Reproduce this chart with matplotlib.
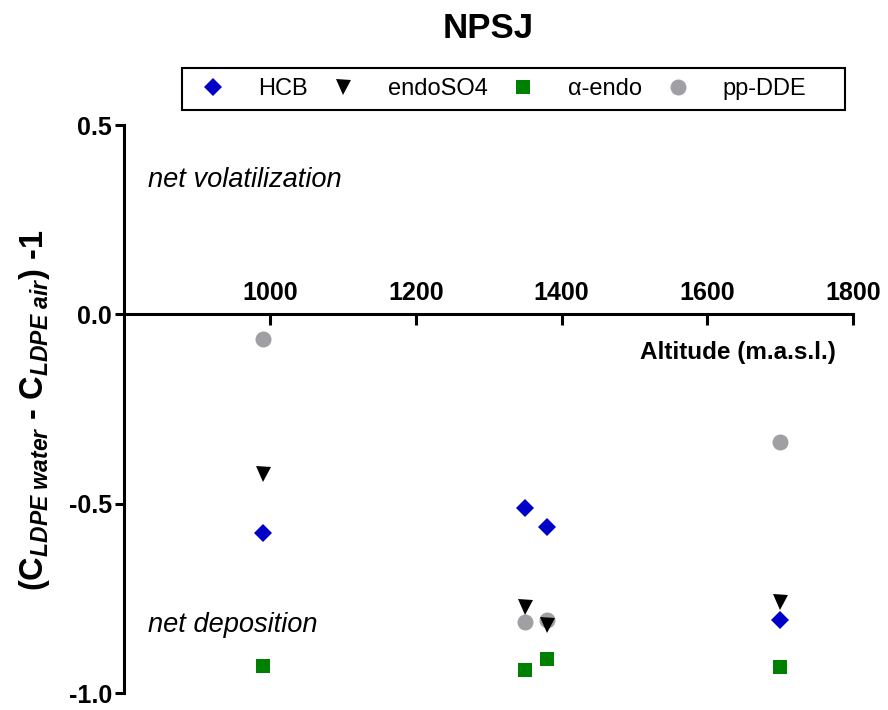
import matplotlib
matplotlib.use("Agg")
import matplotlib.pyplot as plt
from matplotlib.patches import Rectangle

plt.rcParams['font.family'] = ['Liberation Sans', 'DejaVu Sans']
plt.rcParams['axes.unicode_minus'] = False
plt.rcParams['mathtext.fontset'] = 'custom'
plt.rcParams['mathtext.rm'] = 'Liberation Sans'
plt.rcParams['mathtext.it'] = 'Liberation Sans:italic'
plt.rcParams['mathtext.bf'] = 'Liberation Sans:bold'
plt.rcParams['mathtext.bfit'] = 'Liberation Sans:bold:italic'

altitude = [990, 1350, 1380, 1700]
hcb = [-0.576, -0.512, -0.560, -0.806]
endoso4 = [-0.420, -0.773, -0.820, -0.759]
alpha_endo = [-0.928, -0.939, -0.910, -0.930]
pp_dde = [-0.066, -0.813, -0.806, -0.338]
xticks = [1000, 1200, 1400, 1600, 1800]
yticks = [-1.0, -0.5, 0.0, 0.5]

fig = plt.figure(figsize=(8.88, 7.10), dpi=100)
ax = fig.add_axes([124/888, 1-693.3/710, (853.3-124)/888, (693.3-125)/710])

ax.plot(altitude, pp_dde, 'o', color='#A0A0A4', ms=11.5, mew=0, label='pp-DDE', zorder=3)
ax.plot(altitude, hcb, 'D', color='#0000C8', ms=9.2, mew=0, label='HCB', zorder=4)
ax.plot(altitude, endoso4, 'v', color='black', ms=10.8, mew=0, label='endoSO4', zorder=5)
ax.plot(altitude, alpha_endo, 's', color='#008000', ms=10.5, mew=0, label='\u03b1-endo', zorder=4)

ax.set_xlim(800, 1800)
ax.set_ylim(-1.0, 0.5)

for s in ['right', 'bottom']:
    ax.spines[s].set_visible(False)
ax.spines['left'].set_linewidth(2.2)
ax.spines['top'].set_linewidth(2.2)
ax.spines['top'].set_position(('data', 0))
ax.xaxis.tick_top()
ax.set_xticks(xticks)
ax.set_xticklabels([str(v) for v in xticks])
ax.set_yticks(yticks)
ax.set_yticklabels(['%.1f' % v for v in yticks])
ax.tick_params(axis='x', direction='in', length=8, width=2.2, pad=7, labelsize=18)
ax.tick_params(axis='y', direction='out', length=6.5, width=2.2, pad=2, labelsize=18)
for lab in ax.get_xticklabels() + ax.get_yticklabels():
    lab.set_fontweight('bold')

ax.text(148/888, 1-180/710, 'net volatilization', transform=fig.transFigure,
        fontsize=19.6, style='italic', ha='left', va='center')
ax.text(148/888, 1-625/710, 'net deposition', transform=fig.transFigure,
        fontsize=19.6, style='italic', ha='left', va='center')

fig.text(836/888, 1-353/710, 'Altitude (m.a.s.l.)', fontsize=17.5, fontweight='bold',
         ha='right', va='center')
fig.text(35/888, 1-410/710,
         '$\\mathbf{(C}_{\\mathbfit{LDPE\\ water}}\\mathbf{\\ \u2010\\ C}_{\\mathbfit{LDPE\\ air}}\\mathbf{)\\ \u20101}$',
         fontsize=23.5, rotation=90, ha='center', va='center')
fig.text(488/888, 1-28/710, 'NPSJ', fontsize=25, fontweight='bold', ha='center', va='center')

# legend box
fig.patches.append(Rectangle((182/888, 1-110/710), 663/888, 42/710, transform=fig.transFigure,
                             fill=False, edgecolor='black', linewidth=1.5))
handles, labels = ax.get_legend_handles_labels()
order = [1, 2, 3, 0]
leg = fig.legend([handles[i] for i in order], [labels[i] for i in order],
                 loc='center left', bbox_to_anchor=(192/888, 1-89/710), ncol=4,
                 fontsize=17, frameon=False,
                 numpoints=1, handlelength=1.2, handletextpad=1.31, columnspacing=0.89,
                 borderpad=0.3, borderaxespad=0)

fig.savefig('out.png', dpi=100)
